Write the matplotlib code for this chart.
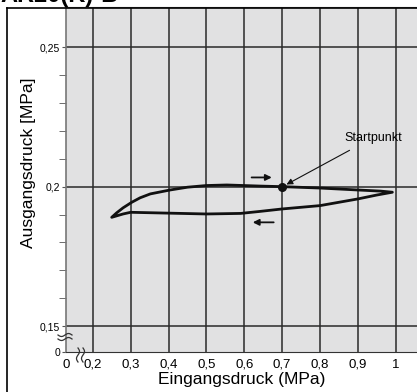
import numpy as np
from matplotlib import pyplot as plt
from matplotlib.lines import Line2D

plt.rcParams['font.family'] = ['Liberation Sans', 'DejaVu Sans']

# loop: start at Startpunkt, go right, back along lower branch, up along upper branch
loop_x = [0.70, 0.80, 0.90, 0.96, 0.991, 0.95, 0.90, 0.85, 0.80, 0.75, 0.70, 0.64, 0.59, 0.50, 0.40,
          0.30, 0.28, 0.25, 0.263, 0.28, 0.303, 0.325, 0.352, 0.404, 0.45, 0.50, 0.554, 0.643, 0.70]
loop_y = [0.2000, 0.1995, 0.1988, 0.1984, 0.1980, 0.1970, 0.1956, 0.1944, 0.1932, 0.1926, 0.1920,
          0.1911, 0.1904, 0.1902, 0.1905, 0.1908, 0.1902, 0.1890, 0.1906, 0.1924, 0.1944, 0.1960,
          0.1974, 0.1988, 0.1998, 0.2004, 0.2006, 0.2002, 0.2000]
start_pt = (0.70, 0.20)
xticks = [0, 0.2, 0.3, 0.4, 0.5, 0.6, 0.7, 0.8, 0.9, 1]
xlabels = ["0", "0,2", "0,3", "0,4", "0,5", "0,6", "0,7", "0,8", "0,9", "1"]
yticks = [0, 0.15, 0.2, 0.25]
ylabels = ["0", "0,15", "0,2", "0,25"]


def fx(x):
    x = np.asarray(x, dtype=float)
    return np.where(x < 0.2, 0.1286 + x * 0.357, x)


def fx_inv(v):
    v = np.asarray(v, dtype=float)
    return np.where(v < 0.2, (v - 0.1286) / 0.357, v)


def fy(y):
    y = np.asarray(y, dtype=float)
    return np.where(y < 0.15, 0.1407 + y * 0.0622, y)


def fy_inv(v):
    v = np.asarray(v, dtype=float)
    return np.where(v < 0.15, (v - 0.1407) / 0.0622, v)


fig = plt.figure(figsize=(4.17, 3.92), dpi=100)
ax = fig.add_axes([0.1576, 0.102, 0.8424, 0.880])
ax.set_xscale('function', functions=(fx, fx_inv))
ax.set_yscale('function', functions=(fy, fy_inv))
ax.set_xlim(0, 1.056)
ax.set_ylim(0, 0.2644)
ax.set_facecolor('#e1e1e2')

for v in xticks[1:]:
    ax.axvline(v, color='#2a2a2a', lw=1.1, zorder=1)
for v in yticks[1:]:
    ax.axhline(v, color='#2a2a2a', lw=1.1, zorder=1)

ax.set_xticks(xticks)
ax.set_xticklabels(xlabels, fontsize=9.5)
ax.set_yticks(yticks)
ax.set_yticklabels(ylabels, fontsize=7.5)
ax.set_yticks(np.arange(0.16, 0.26, 0.01), minor=True)
ax.set_xticks([], minor=True)
ax.tick_params(axis='x', length=0, pad=5)
ax.tick_params(axis='y', which='major', length=3, pad=1, color='#555555')
ax.tick_params(axis='y', which='minor', length=5, color='#555555')
ax.spines['right'].set_visible(False)
ax.spines['left'].set_color('#777777')
ax.spines['left'].set_linewidth(1.2)
ax.spines['bottom'].set_color('#333333')
ax.spines['top'].set_color('#555555')

ax.set_xlabel("Eingangsdruck (MPa)", fontsize=12.5, labelpad=1)
ax.set_ylabel("Ausgangsdruck [MPa]", fontsize=12.5)
ax.yaxis.set_label_coords(-0.085, 0.55)

ax.plot(loop_x, loop_y, color='#111111', lw=2, zorder=3, solid_joinstyle='round')
ax.plot(*start_pt, 'o', color='#111111', ms=5.5, zorder=4)

ax.annotate("", xy=(0.68, 0.2033), xytext=(0.612, 0.2033),
            arrowprops=dict(arrowstyle='-|>', color='#111111', lw=1.3, mutation_scale=9))
ax.annotate("", xy=(0.615, 0.1872), xytext=(0.685, 0.1872),
            arrowprops=dict(arrowstyle='-|>', color='#111111', lw=1.3, mutation_scale=9))
ax.annotate("Startpunkt", xy=(0.705, 0.2003), xytext=(0.94, 0.2176),
            fontsize=9, ha='center', va='center',
            arrowprops=dict(arrowstyle='-|>', color='#111111', lw=0.8, mutation_scale=9,
                            shrinkA=6, shrinkB=2))

# break marks on the axes
t = np.linspace(0, 1, 40)
for off in [0, 4]:
    xs = (58 + 14 * t) / 417
    ys = 1 - (335 + off + 1.5 * np.sin(2 * np.pi * t)) / 392
    fig.add_artist(Line2D(xs, ys, color='#333333', lw=0.9))
for off in [0, 5]:
    ys = 1 - (348 + 14 * t) / 392
    xs = (78 + off + 1.5 * np.sin(2 * np.pi * t)) / 417
    fig.add_artist(Line2D(xs, ys, color='#333333', lw=0.9))

# outer frame
fig.add_artist(Line2D([7 / 417, 7 / 417], [0, 1 - 8 / 392], color='black', lw=1.2))
fig.add_artist(Line2D([7 / 417, 1], [1 - 8 / 392, 1 - 8 / 392], color='black', lw=1.2))

fig.text(0.0, 1.012, "AR20(K)-B", fontsize=17, fontweight='bold', ha='left', va='center')

fig.savefig("out.png", dpi=100)
